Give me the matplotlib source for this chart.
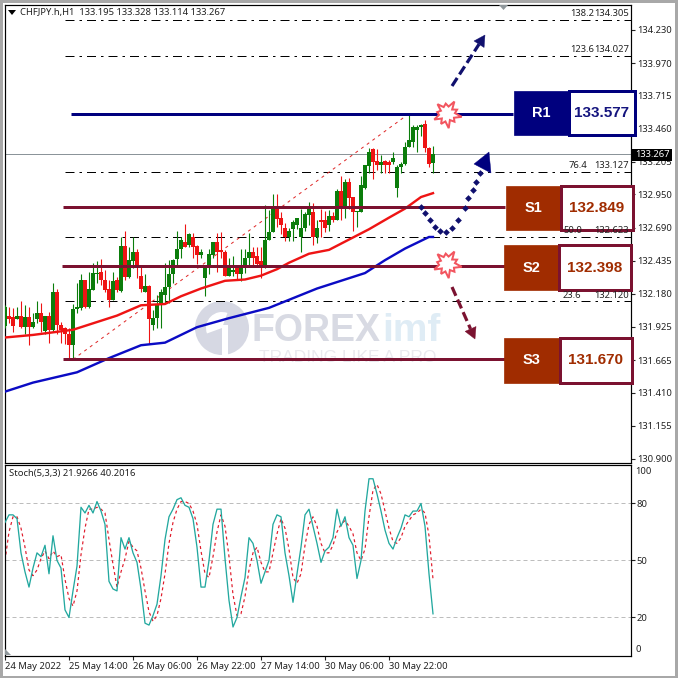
"""CHFJPY H1 chart with support and resistance levels and a stochastic pane."""

import numpy as np
import matplotlib
matplotlib.use("Agg")
import matplotlib.pyplot as plt
from matplotlib.patches import Circle, Polygon, Rectangle, Wedge

plt.rcParams["font.family"] = ["Noto Sans", "DejaVu Sans"]

# candles, one per hour
opens = [131.93, 132.01, 132.00, 131.98, 132.01, 131.92, 132.00, 131.92, 131.98, 132.03,
         131.89, 132.01, 131.90, 132.19, 131.94, 131.91, 131.87, 131.78, 132.06, 132.07,
         132.29, 132.08, 132.21, 132.33, 132.35, 132.29, 132.22, 132.13, 132.29, 132.20,
         132.55, 132.31, 132.43, 132.50, 132.32, 132.19, 132.24, 131.94, 131.99, 132.09,
         132.17, 132.23, 132.33, 132.45, 132.53, 132.58, 132.56, 132.62, 132.55, 132.48,
         132.30, 132.39, 132.48, 132.58, 132.52, 132.50, 132.32, 132.35, 132.38, 132.33,
         132.39, 132.46, 132.50, 132.47, 132.43, 132.39, 132.60, 132.66, 132.85, 132.77,
         132.69, 132.62, 132.68, 132.71, 132.62, 132.69, 132.79, 132.81, 132.62, 132.75,
         132.75, 132.71, 132.78, 132.75, 132.98, 132.85, 133.05, 132.93, 132.81, 132.81,
         133.00, 133.17, 133.30, 133.21, 133.18, 133.21, 133.20, 133.20, 133.00, 133.16,
         133.19, 133.32, 133.36, 133.45, 133.47, 133.50, 133.31, 133.195]
highs = [132.09, 132.08, 132.07, 132.08, 132.12, 132.09, 132.08, 132.03, 132.12, 132.11,
         132.01, 132.04, 132.26, 132.22, 131.96, 131.92, 131.91, 132.10, 132.26, 132.33,
         132.29, 132.35, 132.42, 132.43, 132.45, 132.36, 132.29, 132.35, 132.31, 132.62,
         132.67, 132.54, 132.62, 132.53, 132.39, 132.33, 132.25, 132.05, 132.17, 132.22,
         132.42, 132.44, 132.45, 132.67, 132.62, 132.72, 132.65, 132.65, 132.56, 132.53,
         132.38, 132.53, 132.58, 132.65, 132.66, 132.52, 132.46, 132.47, 132.38, 132.53,
         132.53, 132.65, 132.54, 132.54, 132.54, 132.87, 132.83, 132.95, 132.95, 132.81,
         132.73, 132.69, 132.75, 132.77, 132.84, 132.81, 132.89, 132.88, 132.75, 132.84,
         132.82, 132.83, 132.81, 132.99, 133.09, 133.07, 133.08, 132.93, 132.82, 133.09,
         133.18, 133.31, 133.31, 133.30, 133.26, 133.22, 133.22, 133.28, 133.18, 133.20,
         133.36, 133.57, 133.49, 133.49, 133.50, 133.53, 133.32, 133.328]
lows = [131.91, 131.95, 131.88, 131.98, 131.91, 131.87, 131.78, 131.91, 131.95, 131.88,
        131.87, 131.80, 131.88, 131.87, 131.80, 131.79, 131.67, 131.67, 132.03, 132.05,
        132.07, 132.07, 132.21, 132.26, 132.25, 132.19, 132.08, 132.13, 132.19, 132.19,
        132.29, 132.30, 132.38, 132.30, 132.19, 132.19, 131.79, 131.90, 131.91, 131.91,
        132.11, 132.11, 132.26, 132.39, 132.46, 132.54, 132.54, 132.46, 132.41, 132.46,
        132.16, 132.33, 132.46, 132.35, 132.46, 132.32, 132.32, 132.32, 132.29, 132.28,
        132.34, 132.39, 132.40, 132.40, 132.30, 132.38, 132.60, 132.66, 132.70, 132.64,
        132.59, 132.59, 132.59, 132.68, 132.50, 132.67, 132.71, 132.56, 132.57, 132.62,
        132.66, 132.67, 132.74, 132.75, 132.75, 132.77, 132.84, 132.67, 132.70, 132.81,
        132.99, 133.12, 133.07, 133.14, 133.12, 133.12, 133.12, 133.19, 132.93, 133.12,
        133.18, 133.32, 133.32, 133.28, 133.40, 133.28, 133.16, 133.114]
closes = [132.08, 131.98, 131.93, 132.01, 131.92, 132.00, 131.92, 131.96, 132.03, 131.96,
          132.01, 131.90, 132.19, 131.94, 131.90, 131.87, 131.78, 132.06, 132.08, 132.29,
          132.08, 132.22, 132.34, 132.34, 132.29, 132.21, 132.13, 132.28, 132.21, 132.55,
          132.31, 132.44, 132.50, 132.38, 132.22, 132.24, 131.98, 131.99, 132.09, 132.19,
          132.23, 132.33, 132.44, 132.53, 132.60, 132.54, 132.64, 132.54, 132.48, 132.50,
          132.38, 132.49, 132.58, 132.50, 132.50, 132.32, 132.38, 132.36, 132.33, 132.39,
          132.46, 132.50, 132.46, 132.41, 132.38, 132.60, 132.66, 132.84, 132.76, 132.71,
          132.62, 132.67, 132.74, 132.77, 132.69, 132.80, 132.84, 132.62, 132.69, 132.74,
          132.69, 132.78, 132.75, 132.98, 132.84, 133.05, 132.92, 132.81, 132.82, 133.02,
          133.18, 133.28, 133.20, 133.18, 133.20, 133.18, 133.18, 133.23, 133.16, 133.19,
          133.32, 133.37, 133.47, 133.47, 133.49, 133.31, 133.19, 133.267]

# moving averages, read at the bends of each line
ma_red_bars = [0, 7, 17, 21, 28, 34, 40, 44, 49, 55, 60, 64, 68, 71, 76, 81, 86, 91, 96, 100, 104, 107]
ma_red = [131.84, 131.86, 131.90, 131.94, 132.01, 132.09, 132.10, 132.16, 132.22, 132.28, 132.29,
          132.32, 132.37, 132.42, 132.49, 132.52, 132.60, 132.68, 132.77, 132.84, 132.93, 132.96]
ma_blue_bars = [0, 7, 18, 26, 34, 40, 48, 56, 66, 70, 78, 84, 90, 95, 100, 106, 107]
ma_blue = [131.42, 131.49, 131.57, 131.68, 131.78, 131.80, 131.92, 131.99, 132.07, 132.12,
           132.22, 132.28, 132.34, 132.44, 132.53, 132.62, 132.62]

stoch_main = [70, 74, 74, 72, 54, 44, 36, 46, 54, 52, 58, 43, 63, 50, 46, 24, 20, 34, 47, 78,
              75, 79, 75, 81, 76, 69, 39, 35, 34, 62, 56, 62, 54, 49, 35, 17, 16, 21, 27, 42,
              61, 73, 77, 82, 83, 79, 78, 72, 57, 36, 36, 50, 69, 77, 77, 51, 29, 15, 20, 31,
              41, 62, 59, 50, 38, 44, 50, 69, 74, 73, 54, 42, 28, 43, 57, 74, 77, 68, 59, 49,
              55, 57, 62, 77, 68, 73, 62, 58, 40.5, 50, 76, 93, 93, 85, 76, 66, 59, 56, 62, 67,
              74, 73, 76, 76, 80, 68, 43, 21.93]
stoch_signal = [50, 65, 73, 73, 67, 57, 45, 42, 45, 51, 55, 51, 55, 52, 53, 40, 30, 26, 34, 53,
                67, 77, 77, 78, 77, 75, 61, 48, 36, 44, 51, 60, 57, 55, 46, 34, 23, 18, 21, 30,
                43, 59, 70, 77, 81, 81, 80, 76, 69, 55, 43, 41, 52, 65, 74, 68, 52, 32, 21, 22,
                31, 45, 54, 57, 49, 44, 44, 54, 64, 72, 67, 56, 41, 38, 43, 58, 69, 73, 68, 59,
                54, 54, 58, 65, 69, 71, 68, 64, 54, 50, 56, 73, 87, 90, 85, 76, 67, 60, 59, 62,
                68, 71, 74, 75, 77, 75, 63, 40.2]

fibo_levels = [134.305, 134.027, 133.127, 132.623, 132.120]
fibo_ratios = ["138.2", "123.6", "76.4", "50.0", "23.6"]
fibo_ratio_px = [570, 570, 569, 563, 563]
level_names = ["R1", "S1", "S2", "S3"]
level_prices = [133.577, 132.849, 132.398, 131.670]
level_start_bar = [16.5, 14.5, 14.2, 14.5]
level_end_bar = [127, 125, 125, 125]
fibo_trend_bars = [17, 101]
fibo_trend_prices = [131.67, 133.577]

price_ticks = [134.230, 133.970, 133.715, 133.460, 133.205, 132.950, 132.690,
               132.435, 132.180, 131.925, 131.665, 131.410, 131.155, 130.900]
stoch_ticks = [80, 50, 20]
time_bars = [0, 16, 32, 48, 64, 80, 96]
time_labels = ["24 May 2022", "25 May 14:00", "26 May 06:00", "26 May 22:00",
               "27 May 14:00", "30 May 06:00", "30 May 22:00"]
last_price = 133.267

SIZE = 678
NAVY = "#00007e"
MAROON = "#7b1230"
BROWN = "#a02c00"
BLUE_TEXT = "#14147e"
PX = 0.72  # one pixel in points at dpi 100
FS = 6.8


def px_axes(left, top, right, bottom):
    return [left / SIZE, 1 - bottom / SIZE, (right - left) / SIZE, (bottom - top) / SIZE]


def draw_candles(ax):
    bars = np.arange(len(opens))
    o, h, l, c = map(np.array, (opens, highs, lows, closes))
    colors = np.where(c >= o, "#0b7d0b", "#ee1414")
    ax.vlines(bars, l, h, colors=colors, lw=1.1 * PX, zorder=4)
    ax.bar(bars, np.abs(c - o), bottom=np.minimum(o, c), width=0.82, color=colors, linewidth=0, zorder=4)


def level_box(over, name, left, mid, right, top, bottom, fill, edge, text_color):
    over.add_patch(Rectangle((left, top), mid - left, bottom - top, fc=fill, ec=fill, lw=0.5))
    over.add_patch(Rectangle((mid, top), right - mid, bottom - top, fc="white", ec=edge, lw=3 * PX))
    price = level_prices[level_names.index(name)]
    over.text((left + mid) / 2, (top + bottom) / 2, name, color="white", fontsize=10.5,
              fontweight="bold", ha="center", va="center", family="Liberation Sans")
    over.text((mid + right) / 2, (top + bottom) / 2, f"{price:.3f}", color=text_color, fontsize=11,
              fontweight="bold", ha="center", va="center", family="Liberation Sans")


def burst(over, cx, cy):
    radii = [15, 8, 11, 7, 15, 8, 12, 7, 14, 8, 10, 7, 14, 8, 11, 8, 15, 7, 11, 8]
    angles = np.linspace(0, 2 * np.pi, len(radii), endpoint=False) + 0.2
    points = [(cx + r * np.cos(a), cy + r * np.sin(a) * 0.95) for r, a in zip(radii, angles)]
    over.add_patch(Polygon(points, closed=True, fc="white", ec="#f2555f", lw=2 * PX, zorder=6))


def dashed_arrow(over, start, end, color):
    start, end = np.array(start, float), np.array(end, float)
    direction = (end - start) / np.linalg.norm(end - start)
    normal = np.array([-direction[1], direction[0]])
    neck = end - direction * 11
    over.plot([start[0], neck[0]], [start[1], neck[1]], color=color, lw=3.2 * PX, ls=(0, (3, 1.3)), zorder=6)
    head = [end, neck + normal * 6, neck - normal * 6]
    over.add_patch(Polygon(head, closed=True, fc=color, ec=color, lw=0.3, zorder=6))


def draw_watermark(over):
    over.add_patch(Circle((222, 328), 27, fc="#d6d8e3", ec="none", zorder=1))
    over.add_patch(Wedge((222, 328), 16, 160, 290, fc="white", ec="none", zorder=1))
    over.add_patch(Rectangle((222, 325), 6, 32, fc="white", ec="none", zorder=1))
    over.text(251, 331, "FOREX", color="#d8dae3", fontsize=27, fontweight="bold", ha="left",
              va="center", family="Liberation Sans", zorder=1)
    over.text(382, 331, "imf", color="#dfecf5", fontsize=28, fontweight="bold", ha="left",
              va="center", family="Liberation Sans", zorder=1)
    over.text(259, 357, "TRADING LIKE A PRO", color="#e9e9ee", fontsize=12.5, ha="left",
              va="center", family="Liberation Sans", zorder=1)


fig = plt.figure(figsize=(SIZE / 100, SIZE / 100), dpi=100, facecolor="white")

# main price pane
ax = fig.add_axes(px_axes(4.5, 4.5, 630.5, 462.5), zorder=3)
ax.patch.set_alpha(0)
ax.set_xlim(-0.125, 156.375)
ax.set_ylim(130.870, 134.424)

ax.axhline(last_price, color="#8b9499", lw=1 * PX, zorder=2)
for level in fibo_levels:
    ax.plot([15, 156.375], [level, level], color="black", lw=1 * PX, ls=(0, (9, 5, 2.5, 5)), zorder=2)
ax.plot(fibo_trend_bars, fibo_trend_prices, color="#e02a2a", lw=1 * PX, ls=(0, (3, 4)), zorder=3)
draw_candles(ax)
ax.plot(ma_red_bars, ma_red, color="#ee1414", lw=2.4 * PX, zorder=5)
ax.plot(ma_blue_bars, ma_blue, color="#0b0bc4", lw=2.4 * PX, zorder=5)
for price, start, end, name in zip(level_prices, level_start_bar, level_end_bar, level_names):
    color = NAVY if name == "R1" else MAROON
    ax.plot([start, end], [price, price], color=color, lw=3 * PX, solid_capstyle="butt", zorder=6)

ax.set_xticks([])
ax.yaxis.tick_right()
ax.set_yticks(price_ticks, [f"{t:.3f}" for t in price_ticks])
ax.tick_params(axis="y", length=3, width=0.8, labelsize=FS, pad=1.5, colors="#222222")

# stochastic pane
ax2 = fig.add_axes(px_axes(4.5, 464.5, 630.5, 655.5), zorder=3)
ax2.set_xlim(-0.125, 156.375)
ax2.set_ylim(0, 100.5)
bars = np.arange(len(stoch_main))
for value in stoch_ticks:
    ax2.axhline(value, color="#bdbdbd", lw=1 * PX, ls=(0, (4, 3)), zorder=1)
ax2.plot(bars, stoch_signal, color="#e01c2c", lw=1.2 * PX, ls=(0, (2.5, 2.5)), zorder=2)
ax2.plot(bars, stoch_main, color="#22a89f", lw=1.3 * PX, zorder=3)
ax2.yaxis.tick_right()
ax2.set_yticks(stoch_ticks, [str(v) for v in stoch_ticks])
ax2.tick_params(axis="y", length=3, width=0.8, labelsize=FS, pad=1.5, colors="#222222")
ax2.set_xticks(time_bars, time_labels, ha="left")
ax2.tick_params(axis="x", length=3, width=0.8, labelsize=FS, pad=2, colors="#222222")
for spine in list(ax.spines.values()) + list(ax2.spines.values()):
    spine.set_linewidth(1.2 * PX)

# overlay in image pixels for the annotations
over = fig.add_axes([0, 0, 1, 1], zorder=5)
over.set_xlim(0, SIZE)
over.set_ylim(SIZE, 0)
over.axis("off")

back = fig.add_axes([0, 0, 1, 1], zorder=1)
back.set_xlim(0, SIZE)
back.set_ylim(SIZE, 0)
back.axis("off")
draw_watermark(back)
for y_px in (469, 650.5):
    back.plot([5, 630], [y_px, y_px], color="#e4e4e4", lw=1 * PX, ls=(0, (2, 2)))

# window border
for rect in [(0, 0, SIZE, 2.5), (0, 0, 3, SIZE), (675, 0, 3, SIZE), (0, 675.5, SIZE, 2.5)]:
    over.add_patch(Rectangle(rect[:2], rect[2], rect[3], fc="#a8a8a8", ec="none"))

over.text(20, 12.5, "CHFJPY.h,H1  133.195 133.328 133.114 133.267", fontsize=FS, color="#222222", va="center")
over.text(9, 473.5, "Stoch(5,3,3) 21.9266 40.2016", fontsize=FS, color="#222222", va="center")
over.add_patch(Polygon([(8, 10), (16, 10), (12, 15)], closed=True, fc="black", ec="none"))
over.add_patch(Polygon([(499, 5), (508, 5), (503.5, 10)], closed=True, fc="#8f979b", ec="none"))
over.add_patch(Polygon([(5, 649), (5, 655), (11, 655)], closed=True, fc="#8f979b", ec="none"))
over.text(635.5, 471.5, "100", fontsize=FS, color="#222222", va="center")
over.text(635.5, 649, "0", fontsize=FS, color="#222222", va="center")

# fibonacci captions, right of the lines
for level, ratio, x_px in zip(fibo_levels, fibo_ratios, fibo_ratio_px):
    y_px = np.interp(level, [130.870, 134.424], [462.5, 4.5]) - 6
    over.text(x_px, y_px, ratio, fontsize=FS, color="#222222", va="center", zorder=2)
    over.text(629, y_px, f"{level:.3f}", fontsize=FS, color="#222222", va="center", ha="right", zorder=2)

# current price flag
over.add_patch(Rectangle((632, 148.5), 40, 12, fc="black", ec="none"))
over.text(652, 154.5, f"{last_price:.3f}", fontsize=FS, color="white", ha="center", va="center")

level_box(over, "R1", 514, 569, 634.5, 91, 135, NAVY, NAVY, BLUE_TEXT)
level_box(over, "S1", 505.5, 561, 632.5, 185.5, 230, BROWN, MAROON, BROWN)
level_box(over, "S2", 503.5, 559, 630.5, 245, 290, BROWN, MAROON, BROWN)
level_box(over, "S3", 503.5, 560, 631.5, 338, 383, BROWN, MAROON, BROWN)

burst(over, 447, 114)
burst(over, 447, 264)
dashed_arrow(over, (452, 86), (485, 35), "#10106e")
dashed_arrow(over, (452, 287), (475, 339), MAROON)

# dotted route back to the level, then up
route_x = [421, 425, 430, 435, 440, 446, 452, 458, 465, 468, 473, 476, 480]
route_y = [207, 213, 220, 227, 231, 232, 228, 220, 208, 198, 190, 182, 173]
over.plot(route_x, route_y, ls="none", marker="D", ms=3.4, color="#10106e", mew=0, zorder=6)
over.add_patch(Polygon([(489, 152), (474, 164), (491, 173)], closed=True, fc=NAVY, ec=NAVY, lw=0.3, zorder=6))

fig.savefig("out.png", dpi=100, facecolor="white")
plt.close(fig)
